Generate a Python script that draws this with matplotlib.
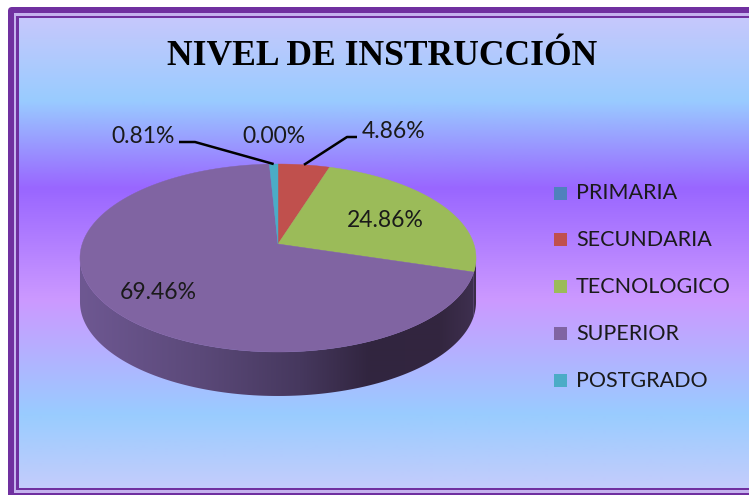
import numpy as np
import matplotlib
matplotlib.use("Agg")
import matplotlib.pyplot as plt
from matplotlib.patches import Polygon, Rectangle, FancyBboxPatch
from matplotlib.colors import to_rgb

# ---------------- data ----------------
categories = ["PRIMARIA", "SECUNDARIA", "TECNOLOGICO", "SUPERIOR", "POSTGRADO"]
values = [0.00, 4.86, 24.86, 69.46, 0.81]
slice_colors = ["#4F81BD", "#C0504D", "#9BBB59", "#8064A2", "#4BACC6"]
side_colors = ["#2E4C70", "#70302E", "#3A2D46", None, "#2C6474"]
title = "NIVEL DE INSTRUCCIÓN"

# ---------------- layout ----------------
W, H = 749, 495
CX, CY = 278.0, 244.0       # slice vertex (pixels)
A, B, K = 195.8, 91.9, 0.149  # perspective ellipse params
DEPTH = 44.0
# label anchors (x center, baseline) and leader elbows
label_pos = {
    "PRIMARIA": (274, 143),
    "SECUNDARIA": (394, 138),
    "TECNOLOGICO": (385, 227),
    "SUPERIOR": (158, 299),
    "POSTGRADO": (143, 143),
}
leaders = {
    "SECUNDARIA": [(347, 137), (357, 137)],
    "POSTGRADO": [(195, 142), (179, 142)],
}
legend_x, legend_base0, legend_step = 554, 199, 46.9

fig = plt.figure(figsize=(W / 100, H / 100), dpi=100)
ax = fig.add_axes([0, 0, 1, 1])
ax.axis("off")


def hex_stops_to_array(stops, n, lo, hi):
    pos = np.array([s[0] for s in stops], float)
    cols = np.array([to_rgb(s[1]) for s in stops])
    t = np.linspace(lo, hi, n)
    return np.stack([np.interp(t, pos, cols[:, i]) for i in range(3)], axis=-1)


# ---------------- frame & background ----------------
ax.add_patch(FancyBboxPatch((8, 7), W + 40, H, boxstyle="round,pad=0,rounding_size=4",
                            fc="#7030A0", ec="none", zorder=0))
ax.add_patch(Rectangle((14, 13), W + 40, 493 - 13, fc="#C4B2EE", ec="none", zorder=0.1))
ax.add_patch(Rectangle((16, 16), W + 40, 490 - 16, fc="#7030A0", ec="none", zorder=0.2))
bg_stops = [(18, "#C6C8FC"), (100, "#99CCFF"), (188, "#9966FF"),
            (300, "#CC99FF"), (415, "#99CCFF"), (488, "#C4CCFC")]
bg = hex_stops_to_array(bg_stops, 480, 18, 488)[:, None, :]
ax.imshow(bg, extent=[18.5, W + 5, 488, 18.5], aspect="auto", origin="upper",
          interpolation="bilinear", zorder=0.3)


# ---------------- pie ----------------
def proj(theta_deg, r=1.0, depth=0.0):
    t = np.radians(theta_deg)
    u, v = r * np.cos(t), r * np.sin(t)
    w = 1 + K * v
    return CX + A * u / w, CY - B * v / w + depth


total = sum(values)
starts, ends = [], []
ang = 90.0
for v in values:
    span = 360.0 * v / total
    starts.append(ang)
    ends.append(ang - span)
    ang -= span

# visible side range (silhouette tangent points)
vis_hi = -np.degrees(np.arcsin(K))
vis_lo = -180 + np.degrees(np.arcsin(K))

side_grad_stops = [(80, "#6E5892"), (200, "#5B4979"), (300, "#46385E"),
                   (370, "#31253F"), (440, "#33263F"), (476, "#3F3050")]
side_grad = hex_stops_to_array(side_grad_stops, 400, 78, 478)[None, :, :]

for i, (s, e) in enumerate(zip(starts, ends)):
    hi, lo = s, e
    for shift in (0, -360):
        h2, l2 = hi + shift, lo + shift
        a_hi, a_lo = min(h2, vis_hi), max(l2, vis_lo)
        if a_hi > a_lo:
            th = np.linspace(a_hi, a_lo, 120)
            xt, yt = proj(th)
            xb, yb = proj(th[::-1], depth=DEPTH)
            pts = np.column_stack([np.r_[xt, xb], np.r_[yt, yb]])
            if side_colors[i] is None:
                poly = Polygon(pts, closed=True, fc="none", ec="none", zorder=2)
                ax.add_patch(poly)
                im = ax.imshow(side_grad, extent=[78, 478, 405, 240], aspect="auto",
                               interpolation="bilinear", zorder=2)
                im.set_clip_path(poly)
            else:
                ax.add_patch(Polygon(pts, closed=True, fc=side_colors[i], ec="none", zorder=2))

for i, (s, e) in enumerate(zip(starts, ends)):
    if values[i] <= 0:
        continue
    th = np.linspace(s, e, max(int(abs(s - e)) * 2, 4))
    xs, ys = proj(th)
    pts = np.column_stack([np.r_[CX, xs], np.r_[CY, ys]])
    ax.add_patch(Polygon(pts, closed=True, fc=slice_colors[i], ec=slice_colors[i],
                         lw=0.3, zorder=3))

# ---------------- data labels ----------------
lab_font = dict(family="Lato", fontsize=16.5, color="#1A1A1A")
leg_font = dict(family="Lato", fontsize=15.5, color="#1A1A1A")
for i, cat in enumerate(categories):
    x, y = label_pos[cat]
    ax.text(x, y, f"{values[i]:.2f}%", ha="center", va="baseline", zorder=5, **lab_font)
    if cat in leaders:
        mid = (starts[i] + ends[i]) / 2
        px, py = proj(mid)
        pts = [(px, py)] + leaders[cat]
        ax.plot([p[0] for p in pts], [p[1] for p in pts], color="black",
                lw=1.8, solid_capstyle="butt", zorder=4)

# ---------------- legend ----------------
for i, cat in enumerate(categories):
    base = legend_base0 + i * legend_step
    ax.add_patch(Rectangle((legend_x, base - 12.5), 13, 13, fc=slice_colors[i],
                           ec="none", zorder=5))
    ax.text(legend_x + 22, base, cat, ha="left", va="baseline", zorder=5, **leg_font)

# ---------------- title ----------------
ax.text(382.5, 65, title, ha="center", va="baseline", family="Liberation Serif",
        fontweight="bold", fontsize=25.6, color="black", zorder=5)

ax.set_xlim(0, W)
ax.set_ylim(H, 0)
fig.savefig("out.png", dpi=100)
